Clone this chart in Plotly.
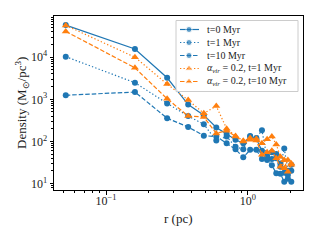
import plotly.graph_objects as go

r_pc = [0.052, 0.16, 0.27, 0.38, 0.49, 0.60, 0.71, 0.82, 0.93, 1.04, 1.15, 1.26,
        1.37, 1.48, 1.59, 1.70, 1.81, 1.92, 2.03]

dens_t0 = [58000, 15700, 3250, 750, 420, 215, 150, 110, 90, 130, 115, 60,
           45, 38, 40, 30, 18, 16, 20]
dens_t1 = [10300, 2480, 800, 400, 255, 105, 130, 75, 65, 135, 120, 185,
           40, 55, 50, 25, 68, 20, 28]
dens_t10 = [1250, 1490, 355, 220, 137, 130, 90, 65, 42, 63, 63, 38,
            36, 27, 17.5, 17, 11, 13, 11]
dens_a_t1 = [57000, 10000, 2300, 960, 465, 690, 200, 135, 104, 120, 115, 90,
             112, 130, 85, 43, 23, 36, 30]
dens_a_t10 = [41000, 5600, 1030, 400, 380, 155, 180, 130, 100, 110, 105, 48,
              55, 60, 40, 25, 36, 19, 28]

names = ["t=0 Myr", "t=1 Myr", "t=10 Myr",
         "<i>α<sub>vir</sub></i> = 0.2, t=1 Myr",
         "<i>α<sub>vir</sub></i> = 0.2, t=10 Myr"]
x_title = "r (pc)"
y_title = "Density (M<sub>⊙</sub>/pc<sup>3</sup>)"

BLUE = "#1f77b4"
ORANGE = "#ff7f0e"
DOT = "1.3px,2.2px"
DASH = "4.5px,2px"

series = [
    (dens_t0, names[0], BLUE, "solid", "circle", 6),
    (dens_t1, names[1], BLUE, DOT, "circle", 6),
    (dens_t10, names[2], BLUE, DASH, "circle", 6),
    (dens_a_t1, names[3], ORANGE, DOT, "triangle-up", 7),
    (dens_a_t10, names[4], ORANGE, DASH, "triangle-up", 7),
]

# page has an 8px body margin; the figure is sized to fit inside it
OFF = 8
W, H = 320 - OFF, 240 - OFF
# plot-area geometry in page pixels
L, R, T, B = 54, 303, 16, 190
PW, PH = R - L, B - T

def px_x(px):
    return (px - L) / PW

def px_y(py):
    return (B - py) / PH

fig = go.Figure()
for ys, nm, col, dash, sym, ms in series:
    fig.add_trace(go.Scatter(
        x=r_pc, y=ys, name=nm, mode="lines+markers",
        line=dict(color=col, width=1.2, dash=dash),
        marker=dict(color=col, symbol=sym, size=ms),
        showlegend=False,
    ))

FONT = "Liberation Serif"

# legend box (drawn on an overlay subplot so it sits above the data)
bx0, bx1, by0, by1 = px_x(176), px_x(298), px_y(91.5), px_y(20.5)
fig.add_trace(go.Scatter(
    x=[bx0, bx1, bx1, bx0, bx0], y=[by0, by0, by1, by1, by0],
    xaxis="x2", yaxis="y2", mode="lines", fill="toself",
    fillcolor="rgba(255,255,255,0.85)", line=dict(color="#cccccc", width=1),
    showlegend=False, hoverinfo="skip",
))

row_y = [29.5, 42.5, 55.5, 68.5, 81.5]
for i, (ys, nm, col, dash, sym, ms) in enumerate(series):
    yy = px_y(row_y[i])
    fig.add_trace(go.Scatter(
        x=[px_x(180), px_x(189), px_x(199)], y=[yy, yy, yy],
        xaxis="x2", yaxis="y2", mode="lines+markers",
        line=dict(color=col, width=1.2, dash=dash),
        marker=dict(color=col, symbol=sym, size=[0, ms, 0]),
        showlegend=False, hoverinfo="skip",
    ))
    fig.add_annotation(xref="paper", yref="paper", x=px_x(205), y=yy,
                       text=nm, showarrow=False, xanchor="left",
                       yanchor="middle",
                       font=dict(family=FONT, size=10, color="#222"))

# axis titles
fig.add_annotation(xref="paper", yref="paper", x=0.5, y=px_y(218),
                   text=x_title, showarrow=False, xanchor="center",
                   yanchor="middle", font=dict(family=FONT, size=13, color="#222"))
fig.add_annotation(xref="paper", yref="paper", x=px_x(22), y=0.5,
                   text=y_title, showarrow=False, textangle=-90,
                   xanchor="center", yanchor="middle",
                   font=dict(family=FONT, size=13, color="#222"))

fig.update_layout(
    width=W, height=H,
    margin=dict(l=L - OFF, r=W - (R - OFF), t=T - OFF, b=H - (B - OFF),
                autoexpand=False),
    paper_bgcolor="white", plot_bgcolor="white",
    font=dict(family=FONT, size=12, color="#222"),
    showlegend=False,
    xaxis=dict(
        type="log", range=[-1.367, 0.39],
        tickvals=[0.1, 1], ticktext=["10<sup>−1</sup>", "10<sup>0</sup>"],
        ticks="outside", ticklen=3.5, tickcolor="black",
        ticklabelstandoff=-4,
        minor=dict(ticks="outside", ticklen=2, tickcolor="black",
                   tickvals=[0.05, 0.06, 0.07, 0.08, 0.09, 0.2, 0.3, 0.4, 0.5,
                             0.6, 0.7, 0.8, 0.9, 2]),
        showline=True, linecolor="black", linewidth=1, mirror=True,
        showgrid=False, zeroline=False, automargin=False,
        tickfont=dict(family=FONT, size=12),
    ),
    yaxis=dict(
        type="log", range=[0.846, 4.979],
        tickvals=[10, 100, 1000, 10000],
        ticktext=["10<sup>1</sup>", "10<sup>2</sup>", "10<sup>3</sup>",
                  "10<sup>4</sup>"],
        ticks="outside", ticklen=3.5, tickcolor="black",
        minor=dict(ticks="outside", ticklen=2, tickcolor="black",
                   tickvals=[m * d for d in [1, 10, 100, 1000, 10000]
                             for m in range(2, 10)]),
        showline=True, linecolor="black", linewidth=1, mirror=True,
        showgrid=False, zeroline=False, automargin=False,
        tickfont=dict(family=FONT, size=12),
    ),
    xaxis2=dict(overlaying="x", range=[0, 1], visible=False, fixedrange=True),
    yaxis2=dict(overlaying="y", range=[0, 1], visible=False, fixedrange=True),
)

fig.write_html("out.html")
